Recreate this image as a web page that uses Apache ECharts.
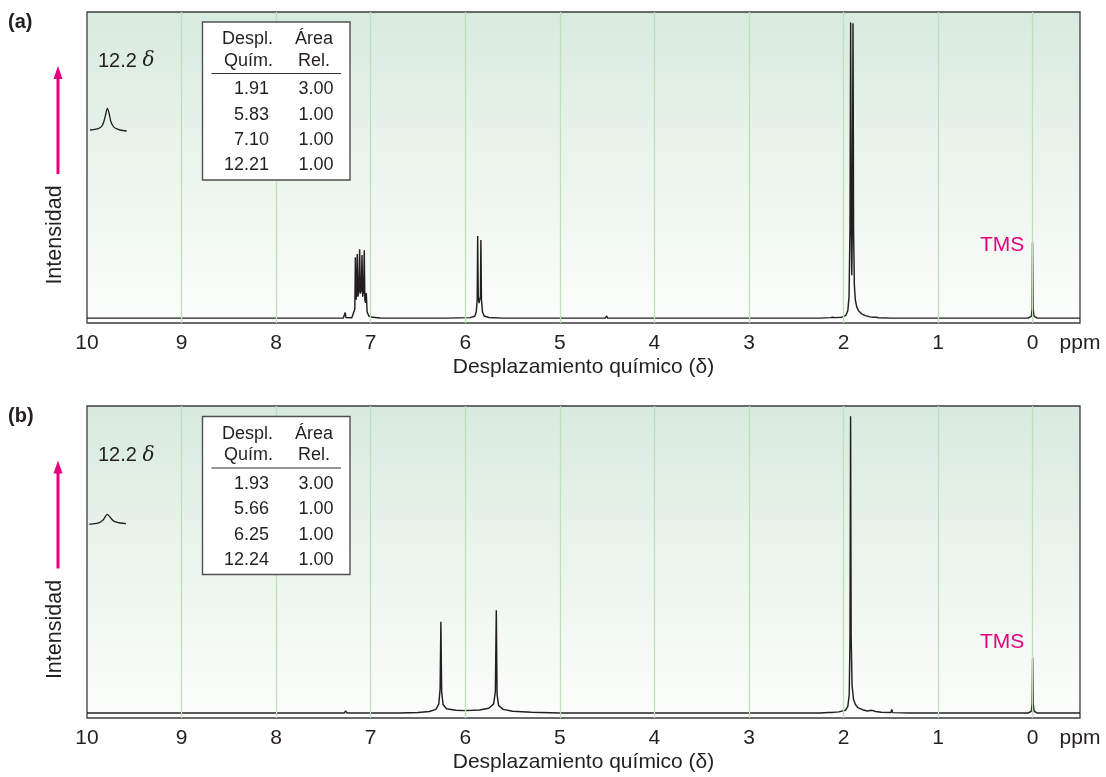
<!DOCTYPE html>
<html><head><meta charset="utf-8">
<script src="https://cdn.jsdelivr.net/npm/echarts/dist/echarts.min.js"></script>
<style>html,body{margin:0;padding:0;background:#fff}#c{width:1106px;height:777px}</style>
</head><body><div id="c"></div>
<script>
// ---------- DATA ----------
const gridLinePpm = [0, 1, 2, 3, 4, 5, 6, 7, 8, 9];
const axisUnit = 'ppm';
const xAxisTitle = 'Desplazamiento químico (\u03b4)';
const yAxisTitle = 'Intensidad';

// spectrum (a): [ppm, intensity]
const spectrumA = [
  [10, 0], [7.29, 0], [7.275, 0.2], [7.27, 1.8], [7.262, 0.2], [7.2, 0.1],
  [7.18, 0.6], [7.168, 3], [7.162, 19.9], [7.155, 6], [7.148, 8], [7.142, 20.9],
  [7.135, 7], [7.125, 9], [7.117, 22.5], [7.11, 8], [7.1, 9], [7.092, 20.6],
  [7.085, 7], [7.075, 9], [7.068, 22.2], [7.062, 6], [7.054, 5], [7.047, 8.2],
  [7.038, 2], [7.02, 0.7], [6.98, 0.25], [6.9, 0.05], [6.2, 0],
  [5.95, 0.15], [5.9, 0.6], [5.884, 2], [5.874, 6], [5.869, 26.8], [5.863, 7],
  [5.855, 4.9], [5.846, 5], [5.84, 7], [5.835, 25.5], [5.829, 6], [5.818, 2],
  [5.8, 0.7], [5.75, 0.2], [5.6, 0], [4.52, 0], [4.505, 0.7], [4.495, 0],
  [2.25, 0], [2.14, 0.15], [2.125, 0.6], [2.115, 0.25], [2.105, 0.6], [2.09, 0.15],
  [2.02, 0.3], [1.975, 0.9], [1.955, 2.5], [1.942, 7], [1.932, 30], [1.925, 96.6],
  [1.919, 32], [1.913, 14], [1.907, 32], [1.9, 96.3], [1.894, 28], [1.886, 11],
  [1.876, 6], [1.86, 3.6], [1.84, 2.3], [1.81, 1.4], [1.77, 0.8], [1.72, 0.4],
  [1.69, 0.3], [1.68, 0.6], [1.67, 0.25], [1.655, 0.3], [1.645, 0.6], [1.63, 0.1],
  [1.5, 0], [0.05, 0], [0.015, 0.6], [0.006, 3], [0.002, 24.8], [-0.004, 3],
  [-0.014, 0.6], [-0.05, 0], [-0.5, 0]
];

// spectrum (b): [ppm, intensity]
const spectrumB = [
  [10, 0], [7.28, 0], [7.265, 0.7], [7.25, 0], [6.7, 0], [6.5, 0.2], [6.38, 0.5],
  [6.31, 1.2], [6.28, 3], [6.266, 8], [6.258, 29.7], [6.25, 7], [6.235, 2.8],
  [6.2, 1.4], [6.1, 0.9], [6.0, 0.8], [5.85, 1.0], [5.75, 1.6], [5.7, 3],
  [5.682, 7], [5.672, 33.5], [5.664, 6], [5.648, 2.5], [5.6, 1.2], [5.5, 0.6],
  [5.3, 0.25], [5.0, 0.05], [4.8, 0],
  [2.25, 0], [2.16, 0.2], [2.145, 0.8], [2.13, 0.2], [2.05, 0.4], [1.98, 0.9],
  [1.955, 2.2], [1.94, 6], [1.932, 25], [1.926, 96.7], [1.92, 25], [1.91, 9],
  [1.895, 4.5], [1.875, 2.8], [1.85, 1.8], [1.8, 1.1], [1.75, 0.7], [1.7, 0.9],
  [1.66, 0.5], [1.6, 0.25], [1.5, 0.2], [1.49, 1.2], [1.482, 0.15], [1.3, 0],
  [0.05, 0], [0.015, 0.6], [0.006, 3], [0.001, 18], [-0.005, 3], [-0.015, 0.6],
  [-0.05, 0], [-0.5, 0]
];

// 12.2 ppm insets: [ppm, intensity]
const insetA = [
  [12.39, 2], [12.33, 2.8], [12.29, 4.3], [12.265, 7], [12.247, 12], [12.23, 19],
  [12.217, 23.7], [12.2, 19], [12.18, 10], [12.16, 6], [12.14, 4], [12.09, 2],
  [12.023, 1]
];
const insetB = [
  [12.397, 1.7], [12.34, 2.4], [12.29, 3.7], [12.265, 5.4], [12.247, 7.7],
  [12.217, 11.7], [12.18, 7.7], [12.16, 5.6], [12.14, 4.3], [12.09, 3],
  [12.03, 2.3]
];

const tableHeader = [['Despl.', 'Quím.'], ['\u00c1rea', 'Rel.']];
const tableA_shift = ['1.91', '5.83', '7.10', '12.21'];
const tableA_area = ['3.00', '1.00', '1.00', '1.00'];
const tableB_shift = ['1.93', '5.66', '6.25', '12.24'];
const tableB_area = ['3.00', '1.00', '1.00', '1.00'];
const insetLabel = '12.2';
const panelLabels = ['(a)', '(b)'];
const refLabel = 'TMS';

// ---------- STYLE ----------
const FONT = '"Liberation Sans", Arial, sans-serif';
const INK = '#231f20';
const MAGENTA = '#e5007e';
const GRIDGREEN = '#bde0b5';
const bgGrad = new echarts.graphic.LinearGradient(0, 0, 0, 1, [
  { offset: 0, color: '#d8eadf' },
  { offset: 0.55, color: '#edf6ee' },
  { offset: 1, color: '#fcfdfc' }
]);

const chart = echarts.init(document.getElementById('c'), null, { renderer: 'canvas' });

function mainX(gridIndex) {
  return {
    type: 'value', gridIndex, min: -0.5, max: 10, interval: 0.5, inverse: true,
    axisLine: { show: false }, axisTick: { show: false }, splitLine: { show: false },
    axisLabel: {
      margin: 10, fontSize: 21, fontFamily: FONT, color: INK,
      showMinLabel: true, showMaxLabel: true,
      formatter: v => (Math.abs(v + 0.5) < 1e-9 ? axisUnit : (Number.isInteger(v) ? String(v) : ''))
    },
    name: xAxisTitle, nameLocation: 'middle', nameGap: 34,
    nameTextStyle: { fontSize: 21, fontFamily: FONT, color: INK }
  };
}
function mainY(gridIndex) {
  return { type: 'value', gridIndex, min: -1.6, max: 100, show: false, splitLine: { show: false } };
}
function insetXAxis(gridIndex) {
  return { type: 'value', gridIndex, min: 12.0, max: 12.4, inverse: true, show: false };
}
function insetYAxis(gridIndex, max) {
  return { type: 'value', gridIndex, min: 0, max, show: false, splitLine: { show: false } };
}
function gridSeries(idx) {
  return {
    type: 'line', xAxisIndex: idx, yAxisIndex: idx, data: [], z: 1, silent: true,
    markLine: {
      silent: true, symbol: ['none', 'none'], label: { show: false },
      lineStyle: { color: GRIDGREEN, width: 1.3, type: 'solid' },
      data: gridLinePpm.map(v => ({ xAxis: v }))
    }
  };
}
function specSeries(idx, data, labelIntensity) {
  return {
    type: 'line', xAxisIndex: idx, yAxisIndex: idx, data, z: 3, silent: true,
    showSymbol: false, symbol: 'none', smooth: false,
    lineStyle: { color: INK, width: 1.45 },
    markPoint: {
      symbol: 'circle', symbolSize: 1, itemStyle: { color: 'rgba(0,0,0,0)' },
      label: { show: true, position: 'left', distance: 8, formatter: refLabel,
        fontSize: 21, fontFamily: FONT, color: MAGENTA },
      data: [{ coord: [0, labelIntensity] }]
    }
  };
}
function insetSeries(idx, data) {
  return {
    type: 'line', xAxisIndex: idx, yAxisIndex: idx, data, z: 3, silent: true,
    showSymbol: false, symbol: 'none', smooth: 0.35,
    lineStyle: { color: INK, width: 1.3 }
  };
}

function text(x, y, t, size, opts = {}) {
  return Object.assign({
    type: 'text', x, y, silent: true,
    style: Object.assign({
      text: t, x: 0, y: 0, font: `${opts.weight || 'normal'} ${size}px ${FONT}`,
      fill: INK, align: opts.align || 'center', verticalAlign: 'middle',
      textAlign: opts.align || 'center', textVerticalAlign: 'middle'
    }, opts.style || {})
  }, opts.el || {});
}

function panelGraphics(dy, label, shifts, areas) {
  const g = [];
  g.push(text(8, 22 + dy, label, 20, { align: 'left', weight: 'bold' }));
  // intensity arrow + label
  g.push({ type: 'line', silent: true, shape: { x1: 58, y1: 174 + dy, x2: 58, y2: 76 + dy },
    style: { stroke: MAGENTA, lineWidth: 3 } });
  g.push({ type: 'polygon', silent: true, shape: { points: [[58, 66 + dy], [53.5, 79 + dy], [62.5, 79 + dy]] },
    style: { fill: MAGENTA } });
  g.push(text(55, 235 + dy, yAxisTitle, 21.5, { el: { rotation: Math.PI / 2 } }));
  // inset label
  g.push({
    type: 'text', x: 98, y: 61 + dy, silent: true,
    style: {
      text: insetLabel + ' {d|\u03b4}', x: 0, y: 0, font: `20px ${FONT}`, fill: INK,
      align: 'left', verticalAlign: 'middle', textAlign: 'left', textVerticalAlign: 'middle',
      rich: { d: { fontFamily: 'DejaVu Serif, serif', fontStyle: 'italic', fontSize: 20, fill: INK, color: INK } }
    }
  });
  // table
  g.push({ type: 'rect', silent: true, z: 50, shape: { x: 202.5, y: 22 + dy, width: 147.5, height: 158 },
    style: { fill: '#fff', stroke: '#505050', lineWidth: 1.4 } });
  g.push({ type: 'line', silent: true, z: 51, shape: { x1: 211.5, y1: 73.5 + dy, x2: 341, y2: 73.5 + dy },
    style: { stroke: '#333', lineWidth: 1.2 } });
  const tz = { z: 52 };
  g.push(text(273, 39.5 + dy, tableHeader[0][0], 18, { align: 'right', el: tz }));
  g.push(text(273, 61 + dy, tableHeader[0][1], 18, { align: 'right', el: tz }));
  g.push(text(314, 39.5 + dy, tableHeader[1][0], 18, { el: tz }));
  g.push(text(314, 61 + dy, tableHeader[1][1], 18, { el: tz }));
  const rowsY = [89.3, 114.8, 140.3, 165.3];
  shifts.forEach((s, i) => {
    g.push(text(269, rowsY[i] + dy, s, 18, { align: 'right', el: tz }));
    g.push(text(333.5, rowsY[i] + dy, areas[i], 18, { align: 'right', el: tz }));
  });
  return g;
}

const option = {
  backgroundColor: '#fff',
  animation: false,
  grid: [
    { left: 87, top: 12, width: 993, height: 311, show: true, backgroundColor: bgGrad,
      borderColor: '#3c3c3c', borderWidth: 1.3, z: 0 },
    { left: 87, top: 406, width: 993, height: 312, show: true, backgroundColor: bgGrad,
      borderColor: '#3c3c3c', borderWidth: 1.3, z: 0 },
    { left: 89, top: 100, width: 40, height: 32, show: false },
    { left: 89, top: 500, width: 40, height: 26, show: false }
  ],
  xAxis: [mainX(0), mainX(1), insetXAxis(2), insetXAxis(3)],
  yAxis: [mainY(0), mainY(1), insetYAxis(2, 32), insetYAxis(3, 26)],
  series: [
    gridSeries(0), gridSeries(1),
    specSeries(0, spectrumA, 23.9), specSeries(1, spectrumB, 23.1),
    insetSeries(2, insetA), insetSeries(3, insetB)
  ],
  graphic: [].concat(
    panelGraphics(0, panelLabels[0], tableA_shift, tableA_area),
    panelGraphics(394.5, panelLabels[1], tableB_shift, tableB_area)
  )
};
chart.setOption(option);
</script>
</body></html>
